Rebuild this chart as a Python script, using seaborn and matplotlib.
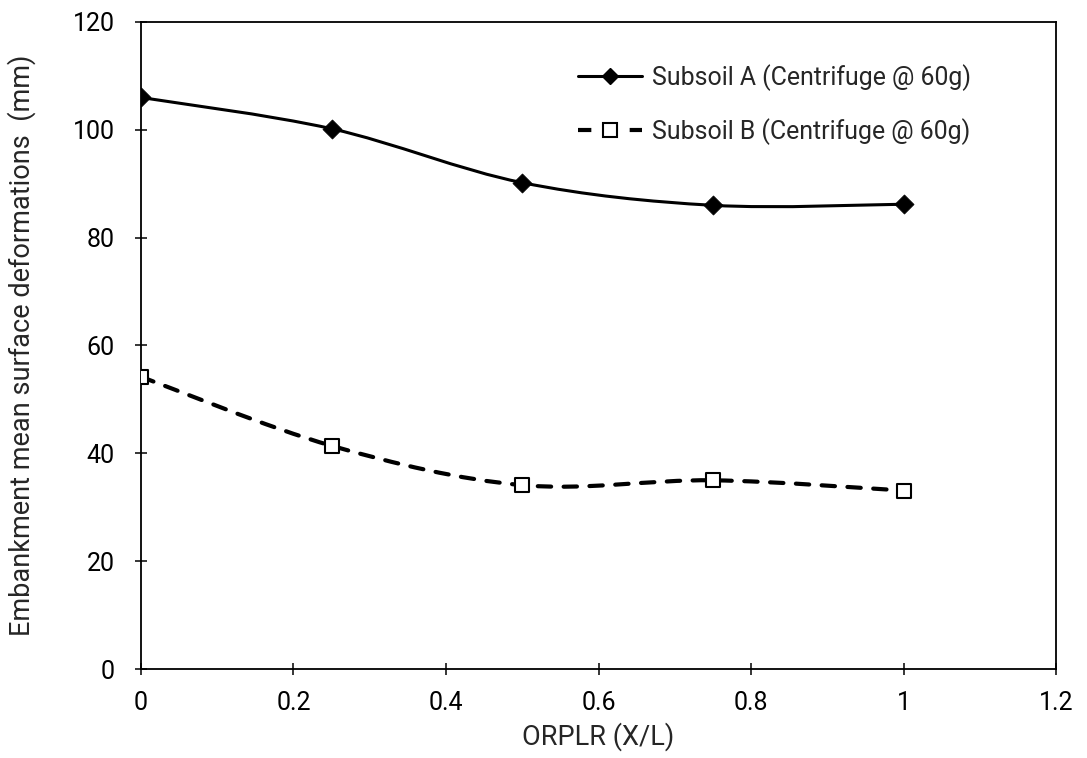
import numpy as np
import pandas as pd
import matplotlib
matplotlib.use("Agg")
import matplotlib.pyplot as plt
from matplotlib.path import Path
from matplotlib.patches import PathPatch
from matplotlib.lines import Line2D
import seaborn as sns

# ORPLR positions and measured mean surface deformations (mm)
orplr = [0.0, 0.25, 0.5, 0.75, 1.0]
subsoil_a = [106.0, 100.2, 90.2, 86.0, 86.2]
subsoil_b = [54.2, 41.4, 34.1, 35.0, 33.1]
label_a = "Subsoil A (Centrifuge @ 60g)"
label_b = "Subsoil B (Centrifuge @ 60g)"
x_ticks = [0, 0.2, 0.4, 0.6, 0.8, 1, 1.2]
x_tick_labels = ["0", "0.2", "0.4", "0.6", "0.8", "1", "1.2"]
y_ticks = [0, 20, 40, 60, 80, 100, 120]

sns.set_theme(style="ticks")
plt.rcParams["font.family"] = ["Roboto", "DejaVu Sans"]

TICK_FS = 18
LABEL_FS = 19.5
LEGEND_FS = 17.9

fig = plt.figure(figsize=(10.87, 7.58), dpi=100)
ax = fig.add_axes([0.1297, 0.1174, 0.9715 - 0.1297, 0.971 - 0.1174])


def smooth_path(xs, ys):
    """Cubic Bezier path through the points (spreadsheet-style smoothed line)."""
    pts = np.column_stack([xs, ys]).astype(float)
    n = len(pts)
    verts = [pts[0]]
    codes = [Path.MOVETO]
    for i in range(n - 1):
        p0 = pts[i - 1] if i > 0 else pts[i]
        p1 = pts[i]
        p2 = pts[i + 1]
        p3 = pts[i + 2] if i + 2 < n else pts[i + 1]
        c1 = p1 + (p2 - p0) / 6.0
        c2 = p2 - (p3 - p1) / 6.0
        verts += [c1, c2, p2]
        codes += [Path.CURVE4] * 3
    return Path(verts, codes)


dash = (0, (3.2, 3.0))
ax.add_patch(PathPatch(smooth_path(orplr, subsoil_a), fill=False,
                       edgecolor="black", linewidth=2.2, zorder=2))
ax.add_patch(PathPatch(smooth_path(orplr, subsoil_b), fill=False,
                       edgecolor="black", linewidth=3.0, linestyle=dash,
                       capstyle="round", zorder=2))

df_a = pd.DataFrame({"x": orplr, "y": subsoil_a})
df_b = pd.DataFrame({"x": orplr, "y": subsoil_b})
sns.scatterplot(data=df_a, x="x", y="y", marker="D", s=95, color="black",
                edgecolor="black", linewidth=0.5, ax=ax, zorder=3, legend=False)
sns.scatterplot(data=df_b, x="x", y="y", marker="s", s=115, color="white",
                edgecolor="black", linewidth=1.5, ax=ax, zorder=3, legend=False)

ax.set_xlim(0, 1.2)
ax.set_ylim(0, 120)
ax.set_xticks(x_ticks)
ax.set_xticklabels(x_tick_labels)
ax.set_yticks(y_ticks)
ax.tick_params(axis="both", direction="inout", length=8, width=1.1,
               labelsize=TICK_FS, colors="black")
ax.tick_params(axis="y", pad=15)
ax.tick_params(axis="x", pad=12)
for side in ["left", "right", "top", "bottom"]:
    ax.spines[side].set_visible(True)
    ax.spines[side].set_linewidth(1.3)
    ax.spines[side].set_color("black")

ax.set_xlabel("ORPLR (X/L)", fontsize=LABEL_FS, labelpad=5)
ax.set_ylabel("Embankment mean surface deformations  (mm)", fontsize=LABEL_FS,
              labelpad=26)

handles = [
    Line2D([], [], color="black", linewidth=2.2, marker="D", markersize=8.5,
           markerfacecolor="black"),
    Line2D([], [], color="black", linewidth=3.0, linestyle=dash,
           marker="s", markersize=9.5, markerfacecolor="white",
           markeredgewidth=1.5),
]
ax.legend(handles, [label_a, label_b], loc="upper right",
          bbox_to_anchor=(0.932, 0.97), frameon=False, fontsize=LEGEND_FS,
          handlelength=2.6, handletextpad=0.4, labelspacing=1.1)

fig.savefig("out.png", dpi=100)
